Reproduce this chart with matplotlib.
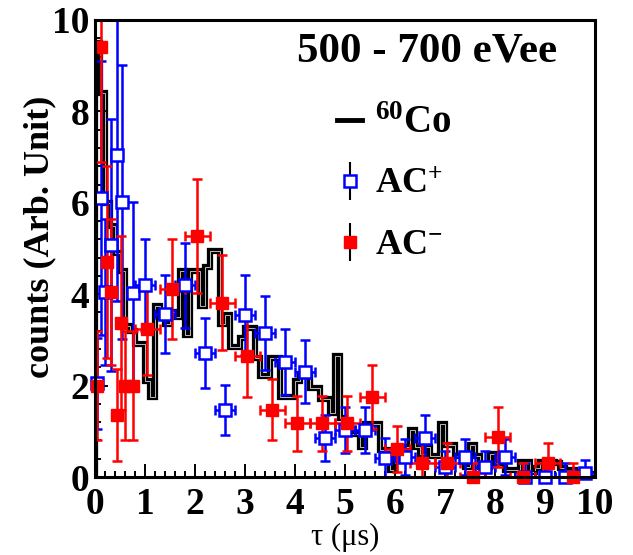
import numpy as np
import matplotlib.pyplot as plt
from matplotlib.ticker import MultipleLocator
from matplotlib.lines import Line2D
from matplotlib.legend_handler import HandlerTuple

plt.rcParams['font.family'] = ['Liberation Serif', 'DejaVu Serif']
plt.rcParams['mathtext.fontset'] = 'custom'
plt.rcParams['mathtext.rm'] = 'Liberation Serif:bold'
plt.rcParams['mathtext.bf'] = 'Liberation Serif:bold'
plt.rcParams['mathtext.it'] = 'Liberation Serif:bold:italic'

# 60Co reference histogram, 0.1 us bins from 0 to 10 us
co_edges = np.arange(101) * 0.1
co_counts = [9.5, 8.4, 6.0, 5.5, 4.9, 4.5, 3.3, 3.2, 2.9, 2.9,
             2.1, 1.75, 3.75, 3.5, 3.35, 3.6, 3.5, 4.5, 3.1, 4.5,
             4.5, 3.75, 4.6, 4.95, 4.95, 3.35, 3.55, 2.85, 2.85, 3.05,
             3.25, 3.25, 2.6, 2.2, 2.2, 2.6, 2.6, 1.75, 1.75, 1.75,
             2.1, 2.25, 2.25, 1.95, 1.95, 1.7, 1.7, 1.4, 2.65, 1.3,
             0.95, 0.95, 0.95, 0.65, 1.17, 1.17, 1.17, 0.6, 0.6, 0.15,
             0.4, 0.4, 0.66, 1.03, 0.66, 0.5, 0.66, 0.45, 0.45, 1.17,
             0.7, 0.7, 0.45, 0.45, 0.22, 0.7, 0.45, 0.22, 0.22, 0.5,
             0.3, 0.3, 0.15, 0.15, 0.15, 0.33, 0.33, 0.1, 0.2, 0.33,
             0.33, 0.33, 0.3, 0.2, 0.15, 0.15, 0.1, 0.07, 0.07, 0.07]

# AC+ (blue, open squares)
acp_x = [0.04, 0.12, 0.20, 0.32, 0.44, 0.54, 0.76, 1.0, 1.4, 1.8, 2.2, 2.6, 3.0, 3.4, 3.8,
         4.2, 4.6, 5.0, 5.4, 5.8, 6.2, 6.6, 7.0, 7.4, 7.8, 8.2, 8.6, 9.0, 9.4, 9.8]
acp_y = [2.05, 6.1, 4.05, 5.08, 7.05, 6.02, 4.02, 4.2, 3.56, 4.2, 2.71, 1.47, 3.54, 3.15, 2.52,
         2.3, 0.85, 1.03, 1.03, 0.41, 0.44, 0.85, 0.22, 0.44, 0.22, 0.44, 0.0, 0.0, 0.0, 0.08]
acp_xerr = [0.04, 0.04, 0.04, 0.05, 0.05, 0.05, 0.1, 0.2, 0.2, 0.2, 0.2, 0.2, 0.2, 0.2, 0.2,
            0.2, 0.2, 0.2, 0.2, 0.2, 0.2, 0.2, 0.2, 0.2, 0.2, 0.2, 0.2, 0.2, 0.2, 0.2]
acp_yerr = [1.0, 3.0, 1.6, 2.75, 3.2, 3.0, 2.0, 1.0, 0.85, 0.93, 0.76, 0.55, 0.88, 0.8, 0.72,
            0.69, 0.5, 0.5, 0.5, 0.45, 0.4, 0.5, 0.35, 0.4, 0.35, 0.4, 0.3, 0.3, 0.3, 0.3]

# AC- (red, filled squares)
acm_x = [0.04, 0.12, 0.24, 0.32, 0.44, 0.52, 0.60, 0.76, 1.05, 1.55, 2.05, 2.55, 3.05,
         3.55, 4.05, 4.55, 5.05, 5.55, 6.05, 6.55, 7.05, 7.55, 8.05, 8.55, 9.05, 9.55]
acm_y = [2.0, 9.4, 4.7, 4.05, 1.36, 3.37, 2.0, 2.0, 3.24, 4.11, 5.27, 3.81, 2.65,
         1.47, 1.18, 1.18, 1.18, 1.75, 0.61, 0.3, 0.3, 0.0, 0.88, 0.0, 0.3, 0.0]
acm_xerr = [0.04, 0.04, 0.04, 0.04, 0.04, 0.04, 0.04, 0.08, 0.25, 0.25, 0.25, 0.25, 0.25,
            0.25, 0.25, 0.25, 0.25, 0.25, 0.25, 0.25, 0.25, 0.25, 0.25, 0.25, 0.25, 0.25]
acm_yerr = [1.2, 2.5, 2.1, 1.6, 1.0, 1.9, 1.2, 1.2, 1.0, 1.1, 1.25, 1.04, 0.9,
            0.67, 0.6, 0.6, 0.6, 0.7, 0.5, 0.45, 0.45, 0.3, 0.65, 0.3, 0.45, 0.3]

fig = plt.figure(figsize=(6.33, 5.55), dpi=100)
ax = fig.add_axes([0.150, 0.1405, 0.790, 0.8235])

# thick black outline with a thin white core, like the ROOT drawing
ax.stairs(co_counts, co_edges, color='black', lw=4.5)
ax.stairs(co_counts, co_edges, color='white', lw=0.5)

eb1 = ax.errorbar(acp_x, acp_y, xerr=acp_xerr, yerr=acp_yerr, fmt='s', ms=8.5,
                  mfc='white', mec='blue', mew=1.8, ecolor='blue', elinewidth=1.8,
                  capsize=3.5, capthick=1.8)
eb2 = ax.errorbar(acm_x, acm_y, xerr=acm_xerr, yerr=acm_yerr, fmt='s', ms=9,
                  mfc='red', mec='red', ecolor='red', elinewidth=1.8,
                  capsize=3.5, capthick=1.8)
eb1[0].set_clip_on(False)
eb2[0].set_clip_on(False)

ax.set_xlim(0, 10)
ax.set_ylim(0, 10)
ax.xaxis.set_major_locator(MultipleLocator(1))
ax.xaxis.set_minor_locator(MultipleLocator(0.2))
ax.yaxis.set_major_locator(MultipleLocator(2))
ax.yaxis.set_minor_locator(MultipleLocator(0.4))
ax.tick_params(which='both', direction='in', top=False, right=False, width=1.4)
ax.tick_params(which='major', length=9.5, labelsize=27)
ax.tick_params(which='minor', length=4.5)
ax.tick_params(axis='x', pad=7)
ax.tick_params(axis='y', pad=4)
for lab in ax.get_xticklabels() + ax.get_yticklabels():
    lab.set_fontweight('bold')
for s in ax.spines.values():
    s.set_linewidth(2.2)

ax.set_xlabel('τ (μs)', fontsize=22)
ax.xaxis.set_label_coords(0.5, -0.1)
ax.set_ylabel('counts (Arb. Unit)', fontsize=26, fontweight='bold')
ax.yaxis.set_label_coords(-0.078, 0.525)

ax.text(0.665, 0.93, '500 - 700 eVee', transform=ax.transAxes, ha='center', va='center',
        fontsize=31, fontweight='bold')

h_co = Line2D([], [], color='black', lw=3.5)
h_p = (Line2D([], [], color='black', marker='|', ms=27, mew=1.5, ls='none'),
       Line2D([], [], color='blue', marker='s', ms=8.5, mfc='white', mew=1.8, ls='none'))
h_m = (Line2D([], [], color='black', marker='|', ms=27, mew=1.5, ls='none'),
       Line2D([], [], color='red', marker='s', ms=9, ls='none'))
leg = ax.legend([h_co, h_p, h_m], ['$^{60}$Co', 'AC$^{+}$', 'AC$^{-}$'],
                handler_map={tuple: HandlerTuple(ndivide=1)},
                loc='upper left', bbox_to_anchor=(0.484, 0.815), frameon=False,
                borderpad=0, borderaxespad=0, handlelength=0.7, handletextpad=0.35,
                labelspacing=0.75, prop={'weight': 'bold', 'size': 26})
leg.get_texts()[0].set_fontsize(28)

fig.savefig('out.png', dpi=100)
